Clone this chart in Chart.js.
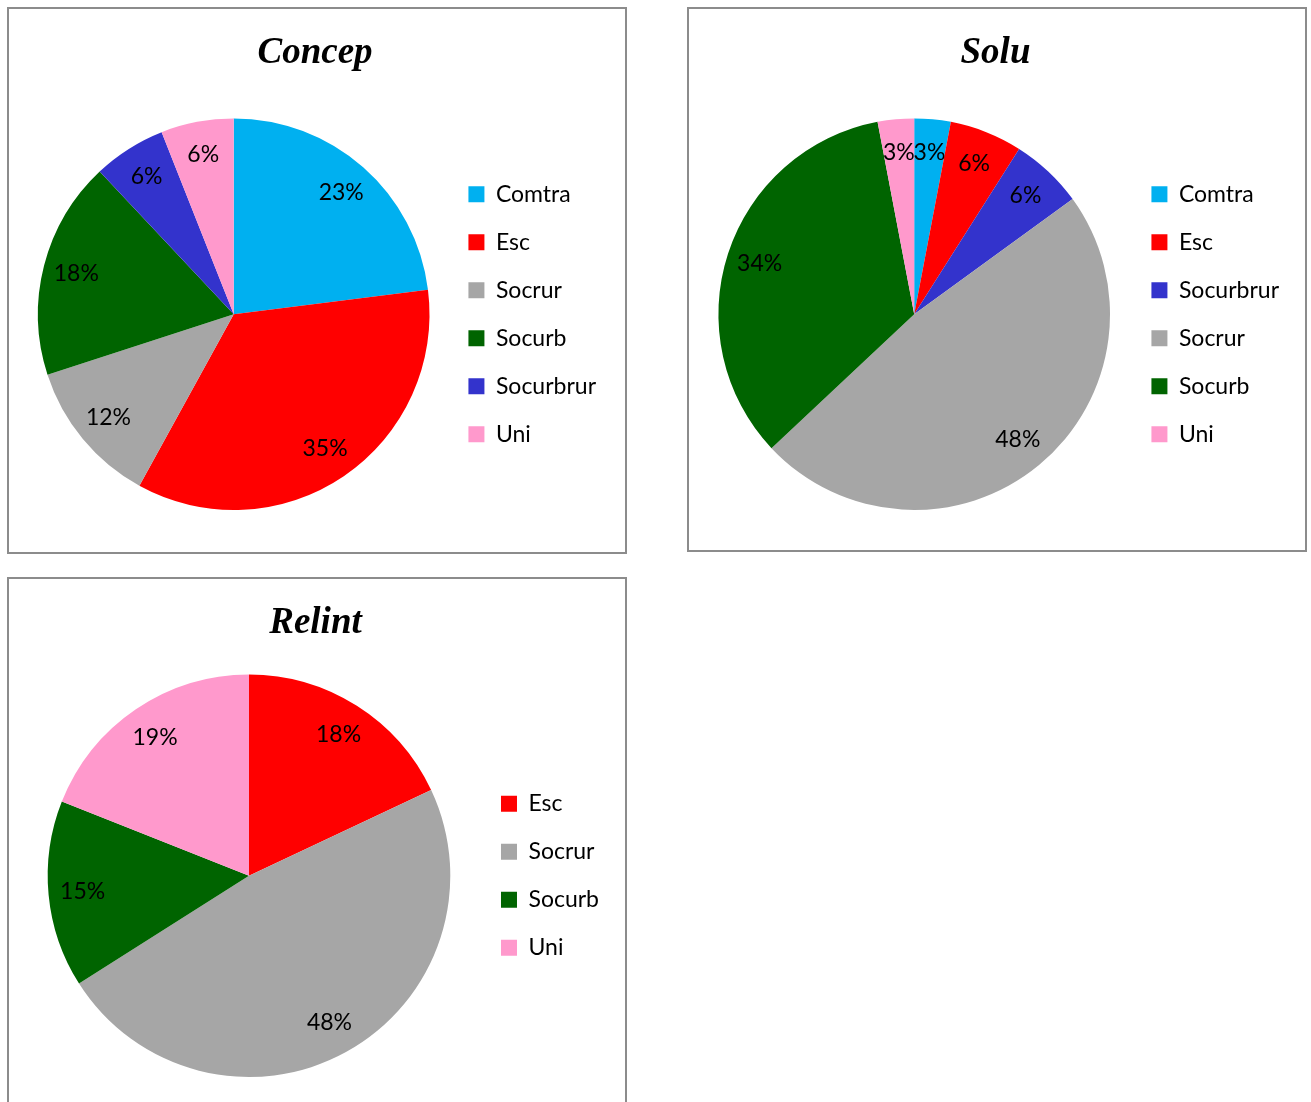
<!DOCTYPE html>
<html>
<head>
<meta charset="utf-8">
<script src="https://cdn.jsdelivr.net/npm/chart.js@4"></script>
<style>
  html, body { margin: 0; padding: 0; background: #fff; overflow: hidden; }
  .panel { position: absolute; border: 2px solid #8c8c8c; background: #fff; }
  .panel canvas { display: block; }
</style>
</head>
<body>
<div class="panel" style="left:7px; top:7px; width:616px; height:543px;"><canvas id="concep" width="616" height="543"></canvas></div>
<div class="panel" style="left:687px; top:7px; width:616px; height:541px;"><canvas id="solu" width="616" height="541"></canvas></div>
<div class="panel" style="left:7px; top:577px; width:616px; height:543px;"><canvas id="relint" width="616" height="543"></canvas></div>
<script>
const concepLabels = ["Comtra", "Esc", "Socrur", "Socurb", "Socurbrur", "Uni"];
const concepValues = [23, 35, 12, 18, 6, 6];

const soluLabels = ["Comtra", "Esc", "Socurbrur", "Socrur", "Socurb", "Uni"];
const soluValues = [3, 6, 6, 48, 34, 3];

const relintLabels = ["Esc", "Socrur", "Socurb", "Uni"];
const relintValues = [18, 48, 15, 19];

// one colour per category, shared by all three pies
const categoryColors = {
  Comtra: "#00b0f0",
  Esc: "#ff0000",
  Socrur: "#a6a6a6",
  Socurb: "#006400",
  Socurbrur: "#3333cc",
  Uni: "#ff99cc",
};

Chart.defaults.color = "#000";
Chart.defaults.font.family = "Lato, 'Noto Sans', sans-serif";

// writes "NN%" inside each slice, near the outer edge
const sliceLabels = {
  id: "sliceLabels",
  afterDatasetsDraw(chart) {
    const ctx = chart.ctx;
    const values = chart.data.datasets[0].data;
    ctx.save();
    ctx.font = "23px Lato, 'Noto Sans', sans-serif";
    ctx.fillStyle = "#000";
    ctx.textAlign = "center";
    ctx.textBaseline = "middle";
    chart.getDatasetMeta(0).data.forEach((arc, i) => {
      const mid = (arc.startAngle + arc.endAngle) / 2;
      const r = arc.outerRadius * 0.83;
      ctx.fillText(values[i] + "%", arc.x + Math.cos(mid) * r, arc.y + Math.sin(mid) * r);
    });
    ctx.restore();
  },
};

function makePie(id, title, labels, values, padding, titlePad) {
  return new Chart(document.getElementById(id), {
    type: "pie",
    data: {
      labels: labels,
      datasets: [
        {
          data: values,
          backgroundColor: labels.map((l) => categoryColors[l]),
          borderWidth: 0,
        },
      ],
    },
    options: {
      responsive: false,
      animation: false,
      devicePixelRatio: 1,
      layout: { padding: padding },
      plugins: {
        title: {
          display: true,
          text: title,
          color: "#000",
          font: { family: "'Liberation Serif', 'Times New Roman', serif", size: 37, weight: "bold", style: "italic" },
          padding: titlePad,
        },
        legend: {
          position: "right",
          fullSize: false, // keep the legend beside the pie, centred on it
          labels: {
            boxWidth: 16,
            boxHeight: 16,
            padding: 25,
            color: "#000",
            font: { size: 23 },
          },
        },
        tooltip: { enabled: false },
      },
    },
    plugins: [sliceLabels],
  });
}

makePie("concep", "Concep", concepLabels, concepValues,
  { left: 15, right: 19, top: 0, bottom: 42 }, { top: 22, bottom: 43 });
makePie("solu", "Solu", soluLabels, soluValues,
  { left: 13, right: 16, top: 0, bottom: 40 }, { top: 22, bottom: 43 });
makePie("relint", "Relint", relintLabels, relintValues,
  { left: 13, right: 16, top: 0, bottom: 45 }, { top: 22, bottom: 29 });
</script>
</body>
</html>
